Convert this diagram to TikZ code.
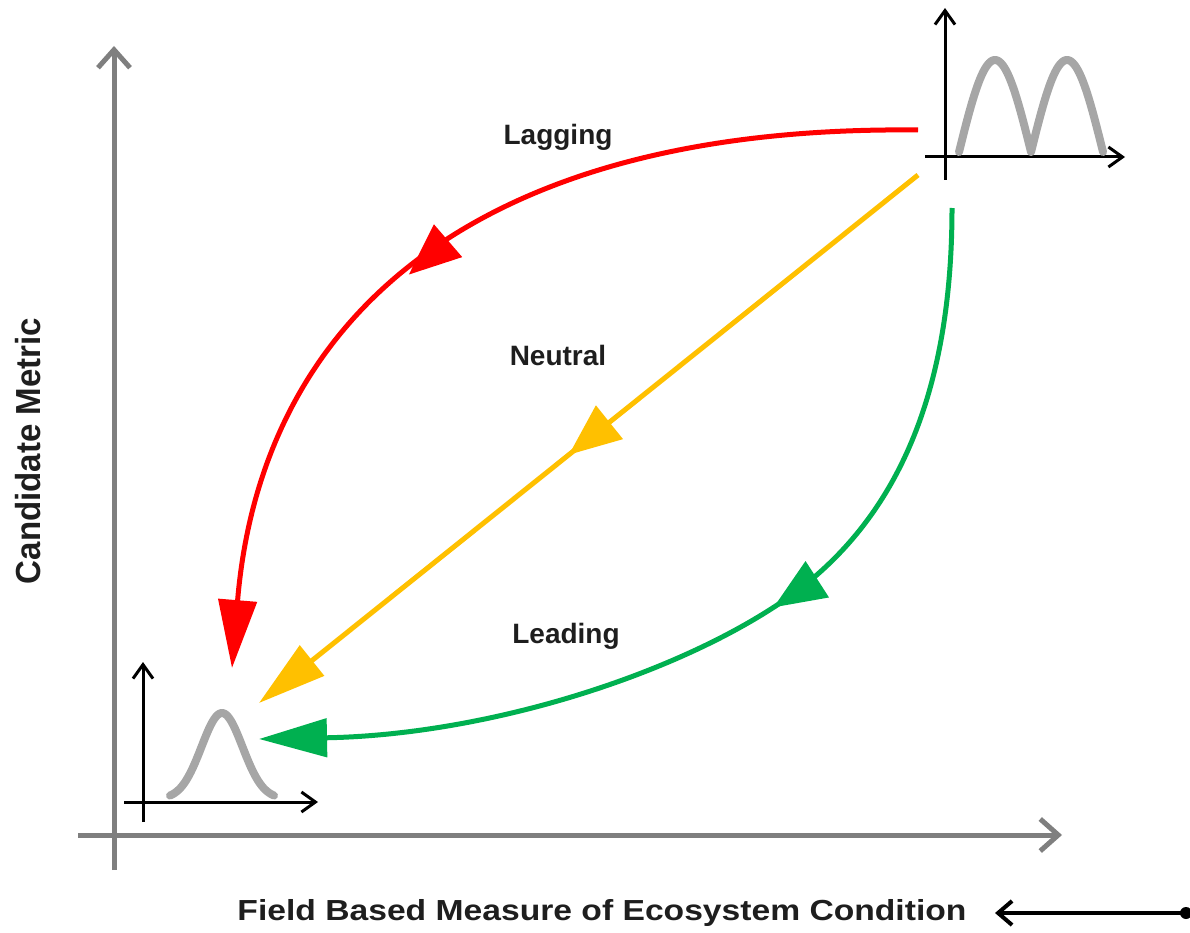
\documentclass[tikz,border=0pt]{standalone}
\usepackage{fontspec}
\setmainfont{Liberation Sans}
\usetikzlibrary{arrows.meta,decorations.markings}
\definecolor{axisgray}{HTML}{7F7F7F}
\definecolor{curvegray}{HTML}{A6A6A6}
\definecolor{lagred}{HTML}{FF0000}
\definecolor{neutyellow}{HTML}{FFC000}
\definecolor{leadgreen}{HTML}{00B050}
\definecolor{txt}{HTML}{1E1E1E}
\tikzset{
  mainaxis/.style={axisgray, line width=5pt, -{Straight Barb[length=18pt,width=32pt]}},
  insetaxis/.style={black, line width=3pt, -{Straight Barb[length=14pt,width=20pt]}},
  dist/.style={curvegray, line width=8pt, line cap=round, line join=round},
  flow/.style={line width=5pt, -{Triangle[length=68pt,width=38pt]},
    postaction={decorate}},
  midmark/.style={decoration={markings,
    mark=at position #1 with {\arrow{Triangle[length=52pt,width=42pt]}}}},
  lbl/.style={txt, font=\bfseries\fontsize{28}{32}\selectfont, inner sep=0pt},
  axlbl/.style={txt, font=\bfseries\fontsize{29}{34}\selectfont, inner sep=0pt},
}
\begin{document}
\begin{tikzpicture}[x=1pt,y=-1pt]
\useasboundingbox (0,0) rectangle (1190,933);
% main axes
\coordinate (yb) at (114,870);
\coordinate (yt) at (114,46);
\coordinate (xl) at (78,835);
\coordinate (xr) at (1062,835);
\draw[mainaxis] (yb) -- (yt);
\draw[mainaxis] (xl) -- (xr);
% top-right inset
\coordinate (tvb) at (945,180);
\coordinate (tvt) at (945,8);
\coordinate (thl) at (925,157);
\coordinate (thr) at (1125,157);
\draw[insetaxis] (tvb) -- (tvt);
\draw[insetaxis] (thl) -- (thr);
\draw[dist] plot[domain=0:144, samples=97] ({959+\x},{152-92*abs(sin(2.5*\x))});
% bottom-left inset
\coordinate (bvb) at (143,822);
\coordinate (bvt) at (143,662);
\coordinate (bhl) at (124,802);
\coordinate (bhr) at (318,802);
\draw[insetaxis] (bvb) -- (bvt);
\draw[insetaxis] (bhl) -- (bhr);
\draw[dist] plot[domain=-52:52, samples=60, smooth] ({222+\x},{799-86*exp(-((\x/29)^2))});
% flow arrows
\coordinate (rs) at (918,130);
\coordinate (re) at (232,668);
\coordinate (ys) at (918,175);
\coordinate (ye) at (259,703);
\coordinate (gs) at (952,208);
\coordinate (gm) at (771,609);
\coordinate (ge) at (259,739);
\draw[flow, lagred, midmark=0.55] (rs) .. controls (460,125) and (260,330) .. (re);
\draw[flow, neutyellow, midmark=0.53] (ys) -- (ye);
\draw[flow, leadgreen, midmark=0.46] (gs) .. controls (952,420) and (880,540) .. (gm)
  .. controls (660,680) and (480,735) .. (ge);
% labels
\node[lbl] (lag) at (558,137) {Lagging};
\node[lbl] (neu) at (558,355) {Neutral};
\node[lbl] (lead) at (566,636) {Leading};
\node[axlbl] (xlab) at (602,913) {\scalebox{1.16}[1]{Field Based Measure of Ecosystem Condition}};
\node[axlbl, rotate=90] (ylab) at (28,451) {\scalebox{1.14}[1.2]{Candidate Metric}};
% bottom-right arrow
\coordinate (ba) at (1186,913);
\coordinate (bt) at (995,913);
\fill[black] (ba) circle (6);
\draw[black, line width=4pt, -{Straight Barb[length=14pt,width=24pt]}] (ba) -- (bt);
\end{tikzpicture}
\end{document}
